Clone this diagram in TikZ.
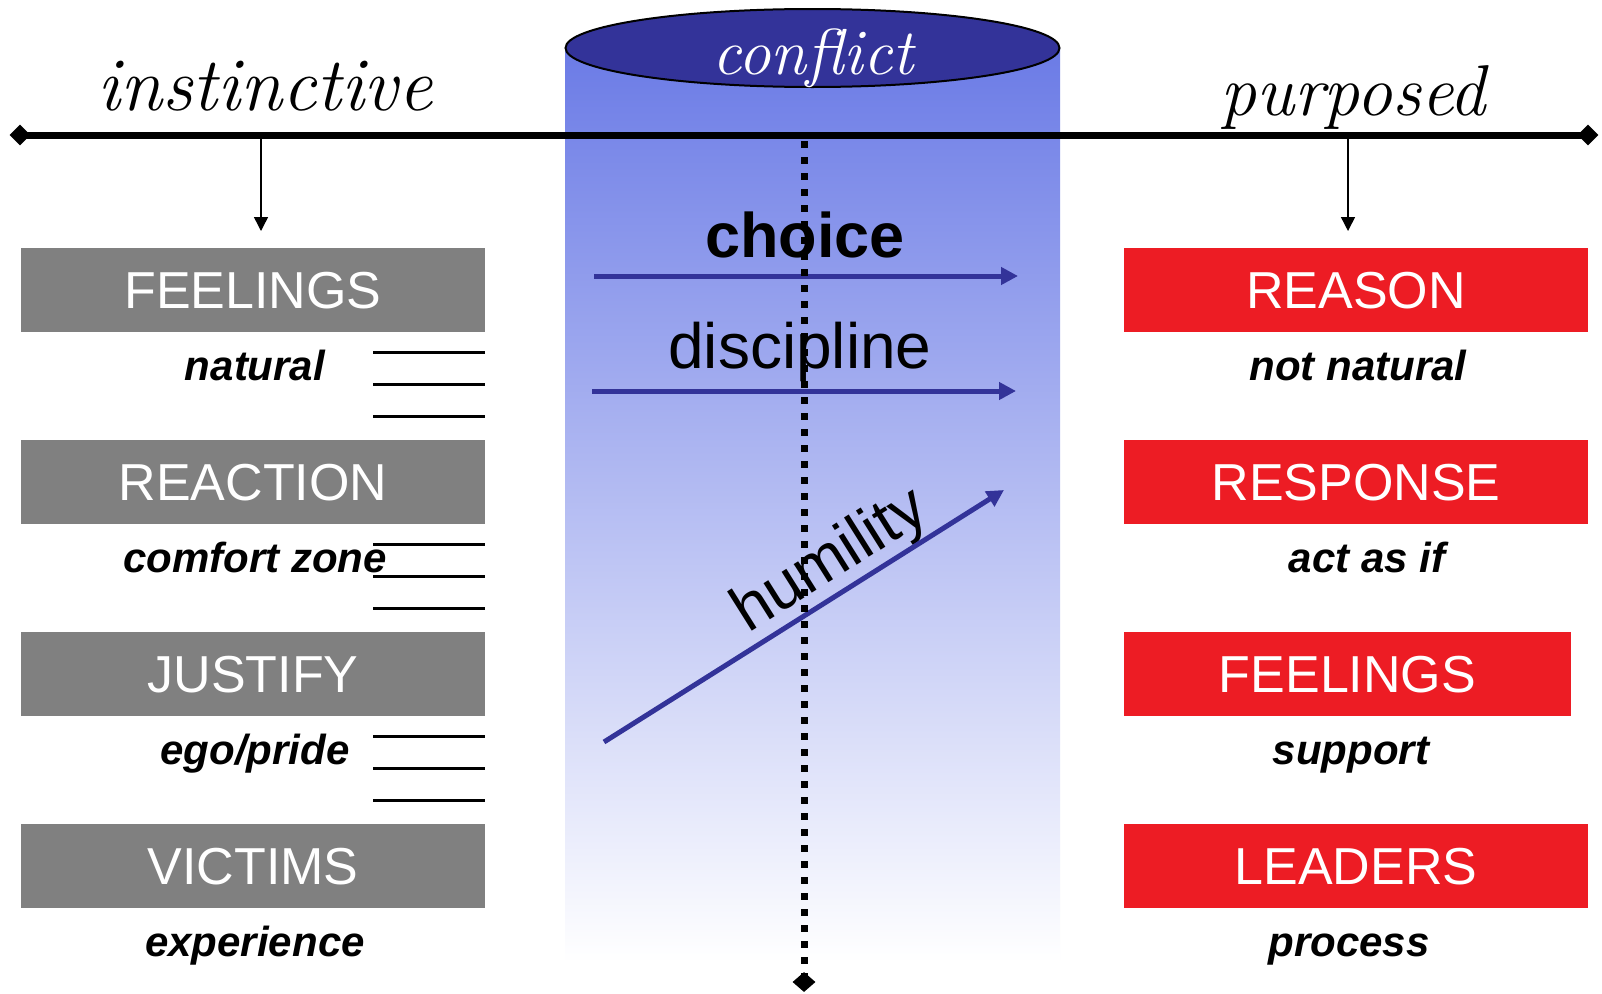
\documentclass[tikz,border=0pt]{standalone}
\usepackage{fontspec}
\setmainfont{Liberation Sans}
\newfontfamily\handf{Latin Modern Roman}
\usetikzlibrary{arrows.meta,shapes.geometric}
\definecolor{boxgrey}{HTML}{808080}
\definecolor{boxred}{HTML}{ED1C24}
\definecolor{navy}{HTML}{333399}
\definecolor{cyltop}{HTML}{6B7BE6}
\definecolor{cylmid}{HTML}{BCC0F0}
\begin{document}
\begin{tikzpicture}[x=1pt,y=-1pt,
  greybox/.style={fill=boxgrey, text=white, minimum width=464pt, minimum height=84pt,
    inner sep=0pt, text height=37.2pt, text depth=0pt, font=\fontsize{52}{60}\selectfont},
  redbox/.style={greybox, fill=boxred},
  sublabel/.style={anchor=base, inner sep=0pt, font=\fontsize{42}{48}\selectfont\bfseries\itshape},
  handlabel/.style={anchor=base, inner sep=0pt},
  midlabel/.style={anchor=base, inner sep=0pt, font=\fontsize{64}{72}\selectfont},
  tickline/.style={line width=3pt},
  downarrow/.style={line width=1.5pt, -{Triangle[width=14pt,length=14pt]}},
  bluearrow/.style={navy, line width=5pt, -{Triangle[width=17pt,length=17pt]}},
  enddiamond/.style={diamond, fill=black, minimum width=21pt, minimum height=21pt, inner sep=0pt}
]
\fill[white] (0,0) rectangle (1602,993);
\useasboundingbox (0,0) rectangle (1602,993);

% cylinder
\shade[top color=cyltop, middle color=cylmid, bottom color=white] (565,48) rectangle (1060,963);
\node[ellipse, draw=black, line width=2pt, fill=navy, minimum width=494pt, minimum height=78pt, inner sep=0pt] (cyl) at (812.5,48) {};
\node[handlabel, text=white, font=\handf\itshape\fontsize{65}{70}\selectfont] (conflict) at (813,74) {conflict};

% top labels
\node[handlabel, font=\handf\itshape\fontsize{76}{80}\selectfont] (instinctive) at (265,110) {instinctive};
\node[handlabel, font=\handf\itshape\fontsize{72}{80}\selectfont] (purposed) at (1353,115) {purposed};

% main axis
\node[enddiamond] (axL) at (20,135) {};
\node[enddiamond] (axR) at (1588,135) {};
\draw[line width=7pt] (axL.center) -- (axR.center);

% down arrows
\coordinate (dL0) at (261,138); \coordinate (dL1) at (261,231);
\coordinate (dR0) at (1348,138); \coordinate (dR1) at (1348,231);
\draw[downarrow] (dL0) -- (dL1);
\draw[downarrow] (dR0) -- (dR1);

% left boxes
\node[greybox] (feelL) at (253,290) {FEELINGS};
\node[greybox] (reaction) at (253,482) {REACTION};
\node[greybox] (justify) at (253,674) {JUSTIFY};
\node[greybox] (victims) at (253,866) {VICTIMS};

\node[sublabel] (natural) at (255,380) {natural};
\node[sublabel] (comfort) at (255,572) {comfort zone};
\node[sublabel] (ego) at (255,764) {ego/pride};
\node[sublabel] (experience) at (255,956) {experience};

\foreach \y in {352,384,416,544,576,608,736,768,800}
  \draw[tickline] (373,\y) -- (485,\y);

% right boxes
\node[redbox] (reason) at (1356,290) {REASON};
\node[redbox] (response) at (1356,482) {RESPONSE};
\node[redbox, minimum width=447pt] (feelR) at (1347.5,674) {FEELINGS};
\node[redbox] (leaders) at (1356,866) {LEADERS};

\node[sublabel] (notnatural) at (1358,380) {not natural};
\node[sublabel] (actasif) at (1367,572) {act as if};
\node[sublabel] (support) at (1351,764) {support};
\node[sublabel] (process) at (1349,956) {process};

% middle
\node[midlabel, font=\fontsize{63}{72}\selectfont\bfseries] (choice) at (805,257) {choice};
\node[midlabel] (discipline) at (800,368) {discipline};
\node[midlabel, rotate=32.2] (humility) at (840,576) {humility};

\coordinate (c1a) at (594,276); \coordinate (c1b) at (1018,276);
\coordinate (c2a) at (592,391); \coordinate (c2b) at (1016,391);
\coordinate (c3a) at (604,742); \coordinate (c3b) at (1004,490);
\draw[bluearrow] (c1a) -- (c1b);
\draw[bluearrow] (c2a) -- (c2b);
\draw[bluearrow] (c3a) -- (c3b);

% dotted vertical
\node[enddiamond, minimum width=23pt, minimum height=20pt] (axB) at (804,982) {};
\coordinate (axT) at (804,141);
\draw[line width=7pt, dash pattern=on 7pt off 9pt] (axT) -- (axB.center);
\end{tikzpicture}
\end{document}
